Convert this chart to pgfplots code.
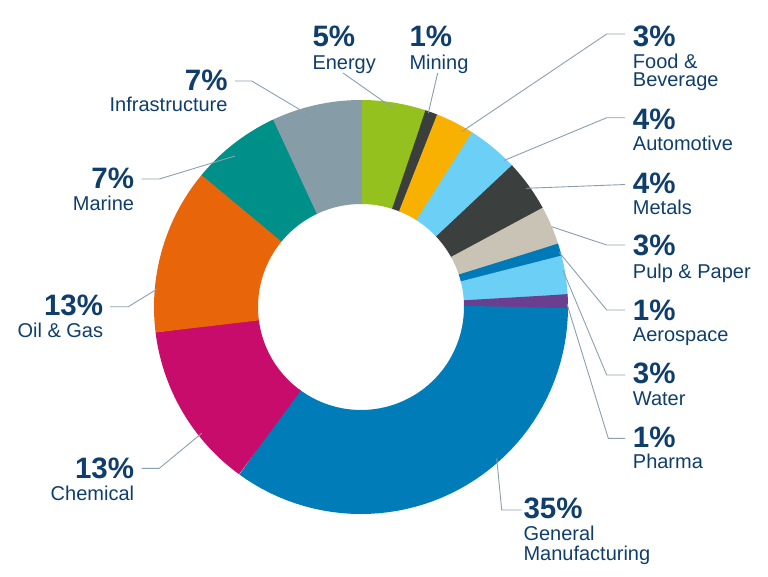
\documentclass[border=0pt]{standalone}
\usepackage{pgfplots}
\pgfplotsset{compat=1.18}
\usepackage{pgfplotstable}
\usepackage{fontspec}
\setmainfont{Liberation Sans}
\definecolor{cEnergy}{HTML}{95C11F}
\definecolor{cMining}{HTML}{3A3F3E}
\definecolor{cFood}{HTML}{F8B100}
\definecolor{cAuto}{HTML}{6CCFF6}
\definecolor{cMetals}{HTML}{3B3F3D}
\definecolor{cPulp}{HTML}{C8C3B5}
\definecolor{cAero}{HTML}{0079B8}
\definecolor{cWater}{HTML}{6CCFF6}
\definecolor{cPharma}{HTML}{6A3F8F}
\definecolor{cGM}{HTML}{007DB8}
\definecolor{cChem}{HTML}{C80C6C}
\definecolor{cOil}{HTML}{E8650A}
\definecolor{cMarine}{HTML}{00908A}
\definecolor{cInfra}{HTML}{869CA7}
\definecolor{navy}{HTML}{0F3E6C}
\definecolor{leader}{HTML}{8AA0B0}

% share (percent) of each sector, clockwise from 12 o'clock
\pgfplotstableread{
value color
5  cEnergy
1  cMining
3  cFood
4  cAuto
4  cMetals
3  cPulp
1  cAero
3  cWater
1  cPharma
35 cGM
13 cChem
13 cOil
7  cMarine
7  cInfra
}\slices

\tikzset{
  pct/.style={font=\bfseries\fontsize{29.5}{31}\selectfont, text=navy, inner sep=0pt},
  lab/.style={font=\fontsize{20}{22}\selectfont, text=navy, inner sep=0pt},
  ld/.style={draw=leader, line width=0.9pt},
}

\begin{document}
\begin{tikzpicture}
\useasboundingbox (0,0) rectangle (768pt,576pt);
\begin{axis}[
  at={(0,0)}, anchor=south west,
  width=768pt, height=576pt, scale only axis,
  xmin=0, xmax=768, ymin=0, ymax=576, y dir=reverse,
  hide axis, clip=false,
]
\pgfplotstablegetrowsof{\slices}
\pgfmathtruncatemacro\lastrow{\pgfplotsretval-1}
\def\cum{0}
\pgfplotsforeachungrouped \i in {0,...,\lastrow}{%
  \pgfplotstablegetelem{\i}{value}\of\slices\let\val\pgfplotsretval
  \pgfplotstablegetelem{\i}{color}\of\slices\let\col\pgfplotsretval
  \pgfmathsetmacro\angA{3.6*\cum}%
  \pgfmathsetmacro\angB{3.6*(\cum+\val)+0.3}%
  \edef\doslice{\noexpand\addplot[draw=\col, line width=104pt, line cap=butt, no markers, domain=\angA:\angB, samples=50] ({361+155*sin(x)},{307-155*cos(x)});}%
  \doslice
  \pgfmathsetmacro\cum{\cum+\val}%
}

% leader lines
\draw[ld] (axis cs:343,73) -- (axis cs:393.3,108.3);
\draw[ld] (axis cs:437.7,73) -- (axis cs:428.3,113);
\draw[ld] (axis cs:625,34) -- (axis cs:606.7,34) -- (axis cs:461.7,131.7);
\draw[ld] (axis cs:625,117.7) -- (axis cs:606.7,117.7) -- (axis cs:504,160.5);
\draw[ld] (axis cs:625,184.5) -- (axis cs:526,188.3);
\draw[ld] (axis cs:625,245) -- (axis cs:606.7,245) -- (axis cs:551.7,226.7);
\draw[ld] (axis cs:625,310) -- (axis cs:606.7,310) -- (axis cs:559.3,252.5);
\draw[ld] (axis cs:625,375) -- (axis cs:606.7,375) -- (axis cs:563,270.5);
\draw[ld] (axis cs:625,438.3) -- (axis cs:608.3,438.3) -- (axis cs:567,304);
\draw[ld] (axis cs:521.7,510) -- (axis cs:501.7,510) -- (axis cs:496.7,458.3);
\draw[ld] (axis cs:141.7,468.3) -- (axis cs:159.3,468.3) -- (axis cs:201.7,433.3);
\draw[ld] (axis cs:110,306.7) -- (axis cs:128.3,306.7) -- (axis cs:156.7,289.3);
\draw[ld] (axis cs:141.7,179) -- (axis cs:159.3,179) -- (axis cs:235,156);
\draw[ld] (axis cs:235,81) -- (axis cs:251.7,81) -- (axis cs:311.7,116.7);

% labels (top)
\node[pct, anchor=base west] at (axis cs:312.3,46) {5\%};
\node[lab, anchor=base west] at (axis cs:312.3,69.3) {Energy};
\node[pct, anchor=base west] at (axis cs:409.3,46) {1\%};
\node[lab, anchor=base west] at (axis cs:409.3,69.3) {Mining};
% right
\node[pct, anchor=base west] at (axis cs:632.7,46) {3\%};
\node[lab, anchor=base west] at (axis cs:632.7,68.3) {Food \&};
\node[lab, anchor=base west] at (axis cs:632.7,86.7) {Beverage};
\node[pct, anchor=base west] at (axis cs:632.7,129) {4\%};
\node[lab, anchor=base west] at (axis cs:632.7,150.5) {Automotive};
\node[pct, anchor=base west] at (axis cs:632.7,193.3) {4\%};
\node[lab, anchor=base west] at (axis cs:632.7,214.3) {Metals};
\node[pct, anchor=base west] at (axis cs:632.7,255.5) {3\%};
\node[lab, anchor=base west] at (axis cs:632.7,278.3) {Pulp \& Paper};
\node[pct, anchor=base west] at (axis cs:632.7,320) {1\%};
\node[lab, anchor=base west] at (axis cs:632.7,341.7) {Aerospace};
\node[pct, anchor=base west] at (axis cs:632.7,383.3) {3\%};
\node[lab, anchor=base west] at (axis cs:632.7,405) {Water};
\node[pct, anchor=base west] at (axis cs:632.7,447.3) {1\%};
\node[lab, anchor=base west] at (axis cs:632.7,468.3) {Pharma};
\node[pct, anchor=base west] at (axis cs:523.3,518.3) {35\%};
\node[lab, anchor=base west] at (axis cs:523.3,540.7) {General};
\node[lab, anchor=base west] at (axis cs:523.3,560) {Manufacturing};
% left
\node[pct, anchor=base east] at (axis cs:227.7,90) {7\%};
\node[lab, anchor=base east] at (axis cs:227.7,111.7) {Infrastructure};
\node[pct, anchor=base east] at (axis cs:134.3,188.3) {7\%};
\node[lab, anchor=base east] at (axis cs:134.3,210) {Marine};
\node[pct, anchor=base east] at (axis cs:103.3,315) {13\%};
\node[lab, anchor=base east] at (axis cs:103.3,337.3) {Oil \& Gas};
\node[pct, anchor=base east] at (axis cs:134.3,478.3) {13\%};
\node[lab, anchor=base east] at (axis cs:134.3,500) {Chemical};
\end{axis}
\end{tikzpicture}
\end{document}
